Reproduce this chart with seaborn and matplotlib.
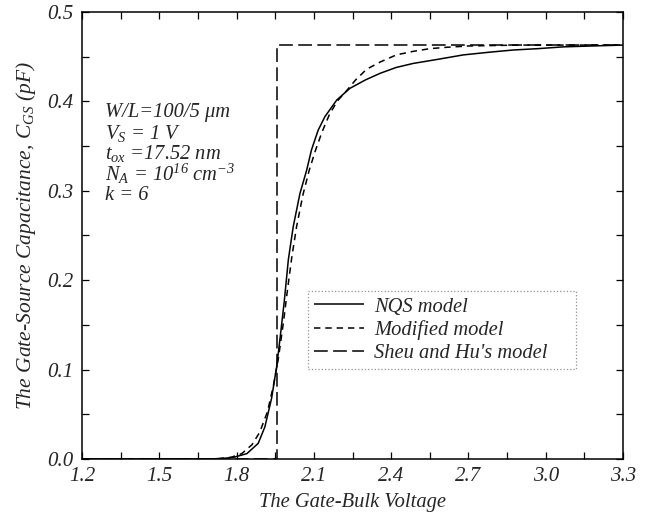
import numpy as np
import pandas as pd
import matplotlib
matplotlib.use("Agg")
import matplotlib.pyplot as plt
from matplotlib.ticker import MultipleLocator, FixedLocator
import seaborn as sns

# Gate-source capacitance vs gate-bulk voltage for three models
nqs_v = [1.20, 1.70, 1.76, 1.79, 1.84, 1.884, 1.910, 1.936, 1.956, 1.970, 1.985,
         2.001, 2.020, 2.046, 2.072, 2.091, 2.117, 2.143, 2.189, 2.240, 2.300,
         2.357, 2.420, 2.486, 2.580, 2.680, 2.780, 2.874, 2.970, 3.068, 3.180, 3.300]
nqs_c = [0.0, 0.0, 0.001, 0.002, 0.006, 0.0175, 0.036, 0.068, 0.104, 0.138, 0.176,
         0.223, 0.260, 0.297, 0.323, 0.346, 0.368, 0.383, 0.4016, 0.4146, 0.424,
         0.4314, 0.438, 0.4425, 0.447, 0.452, 0.455, 0.4575, 0.459, 0.461, 0.462, 0.463]

mod_v = [1.20, 1.72, 1.78, 1.82, 1.86, 1.89, 1.92, 1.943, 1.962, 1.982, 1.998, 2.014,
         2.033, 2.058, 2.082, 2.106, 2.132, 2.160, 2.190, 2.227, 2.262, 2.305, 2.357,
         2.420, 2.486, 2.550, 2.615, 2.700, 2.800, 2.900, 3.050, 3.300]
mod_c = [0.0, 0.0, 0.002, 0.006, 0.016, 0.030, 0.053, 0.082, 0.112, 0.153, 0.190,
         0.225, 0.260, 0.296, 0.323, 0.345, 0.366, 0.385, 0.400, 0.412, 0.424, 0.436,
         0.444, 0.452, 0.456, 0.459, 0.4605, 0.462, 0.4625, 0.463, 0.463, 0.463]

sheu_v = [1.20, 1.956, 1.956, 3.30]
sheu_c = [0.0, 0.0, 0.463, 0.463]

series_names = ["NQS model", "Modified model", "Sheu and Hu's model"]
x_ticks = [1.2, 1.5, 1.8, 2.1, 2.4, 2.7, 3.0, 3.3]
x_ticklabels = ["1.2", "1.5", "1.8", "2.1", "2.4", "2.7", "3.0", "3.3"]
y_ticks = [0.0, 0.1, 0.2, 0.3, 0.4, 0.5]
y_ticklabels = ["0.0", "0.1", "0.2", "0.3", "0.4", "0.5"]

sns.set_style("ticks")
plt.rcParams["font.family"] = ["Liberation Serif", "DejaVu Serif"]
plt.rcParams["font.style"] = "italic"
plt.rcParams["mathtext.fontset"] = "custom"
plt.rcParams["mathtext.it"] = "Liberation Serif:italic"
plt.rcParams["mathtext.rm"] = "Liberation Serif:italic"
plt.rcParams["mathtext.default"] = "it"

fig = plt.figure(figsize=(6.61, 5.16), dpi=100)
ax = fig.add_axes([82 / 661, 1 - 459 / 516, 541 / 661, 447 / 516])

frames = [
    pd.DataFrame({"v": nqs_v, "c": nqs_c}),
    pd.DataFrame({"v": mod_v, "c": mod_c}),
    pd.DataFrame({"v": sheu_v, "c": sheu_c}),
]
styles = [(0, ()), (0, (4.2, 3.2)), (0, (9, 3.5))]

for df, name, ls in zip(frames, series_names, styles):
    sns.lineplot(data=df, x="v", y="c", ax=ax, sort=False, estimator=None,
                 color="black", linewidth=1.1, linestyle=ls, label=name)

ax.set_xlim(1.2, 3.3)
ax.set_ylim(0.0, 0.5)
ax.xaxis.set_major_locator(FixedLocator(x_ticks))
ax.set_xticklabels(x_ticklabels, fontsize=15, fontstyle="italic")
ax.xaxis.set_minor_locator(MultipleLocator(0.15))
ax.yaxis.set_major_locator(FixedLocator(y_ticks))
ax.set_yticklabels(y_ticklabels, fontsize=15, fontstyle="italic")
ax.yaxis.set_minor_locator(MultipleLocator(0.05))
ax.tick_params(which="both", direction="in", top=True, right=True,
               length=5, width=0.9, color="black")
ax.tick_params(axis="both", which="major", pad=6)
for sp in ax.spines.values():
    sp.set_linewidth(1.1)
    sp.set_color("black")

ax.set_xlabel("The Gate-Bulk Voltage", fontsize=14.8, labelpad=5)
ax.set_ylabel("The Gate-Source Capacitance, $C_{GS}$ (pF)", fontsize=15.5, labelpad=7)

info = [
    "W/L=100/5 \u03bcm",
    "$V_S$ = 1 V",
    "$t_{ox}$ =17.52 nm",
    "$N_A$ = 10$^{16}$ cm$^{-3}$",
    "k = 6",
]
info_y = [113, 133, 153, 174, 196]
for txt, yp in zip(info, info_y):
    fig.text(105 / 661, 1 - yp / 516, txt, fontsize=14.8, va="center", ha="left")

leg = ax.legend(loc="upper left",
                bbox_to_anchor=((308 - 82) / 541, (459 - 365) / 447,
                                (576 - 308) / 541, (365 - 291) / 447),
                mode="expand",
                fontsize=14.8, frameon=True, fancybox=False, handlelength=2.4,
                handletextpad=0.5, borderpad=0.3, labelspacing=0.18, borderaxespad=0)
leg.get_frame().set_edgecolor("#777777")
leg.get_frame().set_linestyle(":")
leg.get_frame().set_linewidth(0.9)

fig.savefig("out.png", dpi=100)
